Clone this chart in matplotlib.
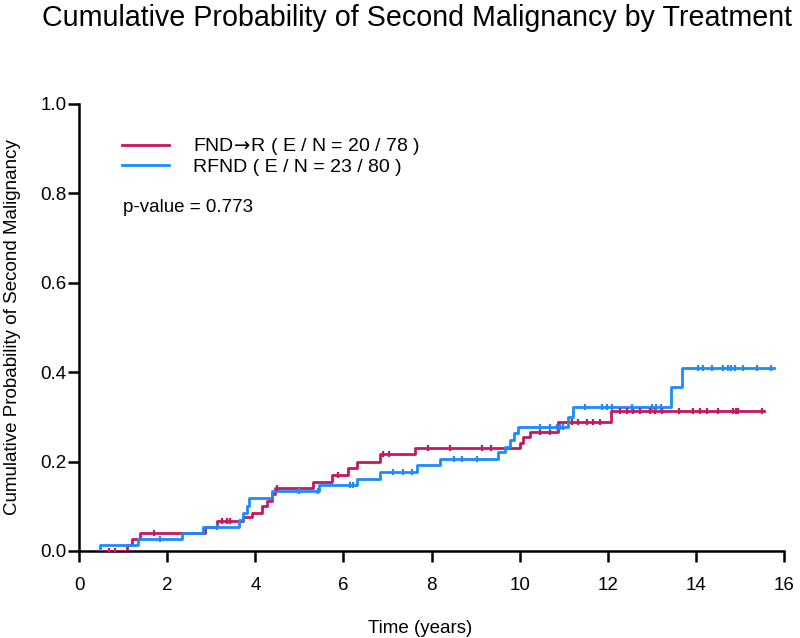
import numpy as np
import matplotlib
matplotlib.use("Agg")
import matplotlib.pyplot as plt

plt.rcParams['font.family'] = ['Liberation Sans', 'DejaVu Sans']

# ---- data ----
red_label = "FND$\\!\\rightarrow\\!$R ( E / N = 20 / 78 )"
blue_label = "RFND ( E / N = 23 / 80 )"

red_start = 0.5
red_times = [1.09, 1.2, 1.38, 2.85, 3.13, 3.72, 3.93, 4.15, 4.27, 4.38, 4.45,
             5.31, 5.74, 6.1, 6.3, 6.83, 7.63, 10.0, 10.08, 10.24, 10.87, 12.08]
red_vals = [0.014, 0.027, 0.04, 0.053, 0.067, 0.075, 0.085, 0.1, 0.112, 0.128, 0.14,
            0.155, 0.17, 0.186, 0.2, 0.217, 0.23, 0.242, 0.254, 0.266, 0.288, 0.313]
red_end = 15.55
red_cens = [0.68, 0.82, 1.7, 3.25, 3.36, 3.42, 4.5, 5.88, 6.9, 7.04, 7.92, 8.42,
            9.15, 9.35, 10.46, 10.69, 11.19, 11.33, 11.53, 11.67, 11.82, 12.28,
            12.44, 12.57, 12.73, 12.96, 13.07, 13.23, 13.62, 13.94, 14.1, 14.25,
            14.5, 14.84, 14.9, 14.96, 15.5]

blue_start = 0.47
blue_times = [0.47, 1.34, 2.34, 2.8, 3.63, 3.72, 3.8, 3.86, 4.38, 5.45, 6.3, 6.83,
              7.67, 8.2, 9.5, 9.67, 9.78, 9.86, 9.97, 11.1, 11.2, 13.44, 13.69]
blue_vals = [0.013, 0.027, 0.04, 0.054, 0.069, 0.085, 0.1, 0.118, 0.134, 0.148,
             0.161, 0.177, 0.192, 0.206, 0.222, 0.233, 0.248, 0.264, 0.277, 0.3,
             0.322, 0.367, 0.409]
blue_end = 15.77
blue_cens = [1.84, 3.13, 4.99, 5.43, 6.15, 6.22, 7.13, 7.35, 7.56, 8.5, 8.7, 9.03,
             10.46, 10.69, 10.85, 10.92, 10.99, 11.48, 11.87, 11.98, 12.1, 12.55,
             13.0, 13.1, 13.2, 14.05, 14.16, 14.37, 14.62, 14.73, 14.8, 14.89,
             15.07, 15.39, 15.71]

x_ticks = [0, 2, 4, 6, 8, 10, 12, 14, 16]
y_ticks = [0.0, 0.2, 0.4, 0.6, 0.8, 1.0]

RED = '#C8175D'
BLUE = '#1A8CFF'

fig = plt.figure(figsize=(8.0, 6.38), dpi=100)
ax = fig.add_axes([0.099, 0.1364, 0.881, 0.7006])


def curve(start, times, vals, end):
    x = np.concatenate([[start], times, [end]])
    y = np.concatenate([[0.0], vals, [vals[-1]]])
    return x, y


def cens_y(times, vals, cens):
    t = np.asarray(times)
    v = np.concatenate([[0.0], vals])
    idx = np.searchsorted(t, np.asarray(cens), side='right')
    return v[idx]


for start, times, vals, end, cens, col, lab in [
        (red_start, red_times, red_vals, red_end, red_cens, RED, red_label),
        (blue_start, blue_times, blue_vals, blue_end, blue_cens, BLUE, blue_label)]:
    x, y = curve(start, times, vals, end)
    ax.step(x, y, where='post', color=col, lw=2.0, label=lab, zorder=3)
    ax.plot(cens, cens_y(times, vals, cens), ls='none', marker='|', ms=5,
            mew=1.6, color=col, zorder=4)

ax.set_xlim(0, 16)
ax.set_ylim(0, 1.0)
ax.set_xticks(x_ticks)
ax.set_xticklabels([str(v) for v in x_ticks])
ax.set_yticks(y_ticks)
ax.set_yticklabels([f"{v:.1f}" for v in y_ticks])
for s in ['top', 'right']:
    ax.spines[s].set_visible(False)
for s in ['left', 'bottom']:
    ax.spines[s].set_linewidth(1.8)
    ax.spines[s].set_color('black')
ax.tick_params(axis='both', direction='out', length=8, width=1.8,
               labelsize=13.5, pad=1)
ax.tick_params(axis='x', pad=11)

ax.set_xlabel("Time (years)", fontsize=13.5)
ax.xaxis.set_label_coords(0.484, -0.155)
ax.set_ylabel("Cumulative Probability of Second Malignancy", fontsize=13.5)
ax.yaxis.set_label_coords(-0.083, 0.5)

fig.text(0.052, 0.972, "Cumulative Probability of Second Malignancy by Treatment",
         fontsize=20.6, ha='left', va='center')

leg = ax.legend(loc='upper left', bbox_to_anchor=(0.05, 0.945), frameon=False,
                fontsize=14, handlelength=2.4, handletextpad=1.25,
                labelspacing=0.05, borderaxespad=0)
for line in leg.get_lines():
    line.set_linewidth(2.0)
ax.text(0.062, 0.768, "p-value = 0.773", transform=ax.transAxes, fontsize=13.5,
        ha='left', va='center')

fig.savefig("out.png", dpi=100)
